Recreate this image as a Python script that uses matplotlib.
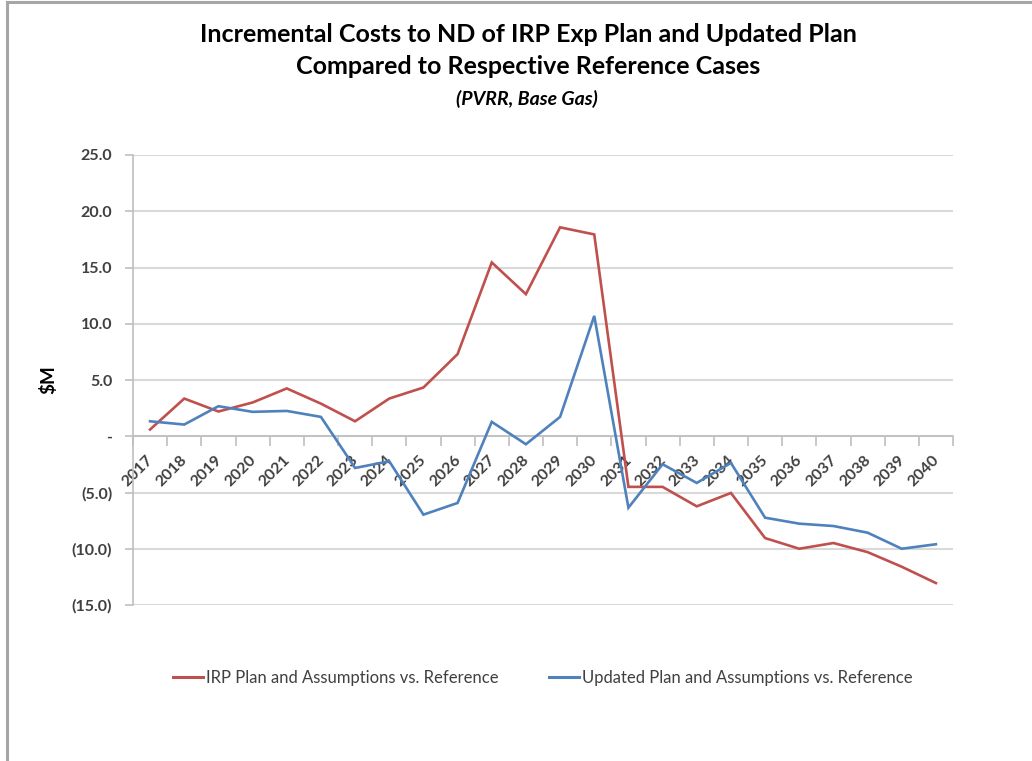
import matplotlib
matplotlib.use("Agg")
import matplotlib.pyplot as plt
import matplotlib.transforms as mtransforms
from matplotlib.lines import Line2D

plt.rcParams['font.family'] = ['Lato', 'DejaVu Sans']

years = list(range(2017, 2041))
irp_plan = [0.6, 3.35, 2.2, 3.0, 4.25, 2.9, 1.33, 3.35, 4.33, 7.3, 15.45, 12.63,
            18.57, 17.94, -4.5, -4.5, -6.23, -5.04, -9.05, -10.0, -9.49, -10.3,
            -11.6, -13.05]
updated_plan = [1.33, 1.04, 2.67, 2.17, 2.25, 1.72, -2.82, -2.22, -6.97, -5.93,
                1.28, -0.71, 1.72, 10.7, -6.35, -2.49, -4.15, -2.37, -7.24, -7.77,
                -7.98, -8.57, -10.0, -9.6]
y_ticks = [25, 20, 15, 10, 5, 0, -5, -10, -15]
y_labels = ["25.0", "20.0", "15.0", "10.0", "5.0", "-", "(5.0)", "(10.0)", "(15.0)"]

title_1 = "Incremental Costs to ND of IRP Exp Plan and Updated Plan"
title_2 = "Compared to Respective Reference Cases"
subtitle = "(PVRR, Base Gas)"
series_names = ["IRP Plan and Assumptions vs. Reference",
                "Updated Plan and Assumptions vs. Reference"]

RED = "#C0504D"
BLUE = "#4F81BD"
TEXT = "#404040"
GRID = "#D9D9D9"
AXIS = "#BFBFBF"

W, H = 1032, 761
fig = plt.figure(figsize=(W / 100, H / 100), dpi=100)
fig.patch.set_facecolor("white")

# outer frame (top and left edges)
fig.add_artist(Line2D([6.5 / W, 6.5 / W], [0, 1 - 1.5 / H], transform=fig.transFigure,
                      color="#A6A6A6", lw=2.2))
fig.add_artist(Line2D([6.5 / W, 1], [1 - 1.5 / H, 1 - 1.5 / H], transform=fig.transFigure,
                      color="#A6A6A6", lw=2.2))

left, right, top, bottom = 133, 953, 155, 605
ax = fig.add_axes([left / W, 1 - bottom / H, (right - left) / W, (bottom - top) / H])

ax.plot(years, irp_plan, color=RED, lw=1.9, solid_joinstyle="miter", zorder=3)
ax.plot(years, updated_plan, color=BLUE, lw=1.9, solid_joinstyle="miter", zorder=3)

ax.set_xlim(2016.5, 2040.5)
ax.set_ylim(-15, 25)

for s in ["top", "right"]:
    ax.spines[s].set_visible(False)
ax.spines["left"].set_color(AXIS)
ax.spines["left"].set_linewidth(1.2)
ax.spines["bottom"].set_position(("data", 0))
ax.spines["bottom"].set_color(AXIS)
ax.spines["bottom"].set_linewidth(1.2)

ax.set_yticks(y_ticks)
ax.set_yticklabels(y_labels)
ax.tick_params(axis="y", length=6, width=1.2, color=AXIS, pad=9,
               labelsize=11.5, labelcolor=TEXT)
for lbl in ax.get_yticklabels():
    lbl.set_fontweight("bold")
ax.yaxis.grid(True, color=GRID, lw=1.5)
ax.set_axisbelow(True)

ax.set_xticks(years)
ax.set_xticklabels([str(y) for y in years])
ax.set_xticks([y + 0.5 for y in range(2016, 2041)], minor=True)
ax.tick_params(axis="x", which="major", length=0, pad=12, labelsize=11.5,
               labelcolor=TEXT)
ax.tick_params(axis="x", which="minor", length=7, width=1.2, color=AXIS,
               direction="out")
shift = mtransforms.ScaledTranslation(-4 / 100, 0, fig.dpi_scale_trans)
for lbl in ax.get_xticklabels():
    lbl.set_rotation(45)
    lbl.set_ha("right")
    lbl.set_va("top")
    lbl.set_rotation_mode("anchor")
    lbl.set_fontweight("bold")
    lbl.set_transform(lbl.get_transform() + shift)

fig.text(48 / W, 1 - 380 / H, "$M", rotation=90, ha="center", va="center",
         fontsize=13.5, fontweight="bold", color="black")

fig.text(528 / W, 1 - 34 / H, title_1, ha="center", va="center",
         fontsize=18, fontweight="bold", color="black")
fig.text(528 / W, 1 - 66 / H, title_2, ha="center", va="center",
         fontsize=18, fontweight="bold", color="black")
fig.text(527 / W, 1 - 99 / H, subtitle, ha="center", va="center",
         fontsize=14, fontweight="bold", style="italic", color="black")

handles = [Line2D([], [], color=RED, lw=2.2), Line2D([], [], color=BLUE, lw=2.2)]
fig.legend(handles, series_names, loc="center", bbox_to_anchor=(543 / W, 1 - 678 / H),
           ncol=2, frameon=False, fontsize=12, handlelength=1.8, handletextpad=0.2,
           columnspacing=3.0, labelcolor=TEXT)

fig.savefig("out.png", dpi=100, facecolor="white")
